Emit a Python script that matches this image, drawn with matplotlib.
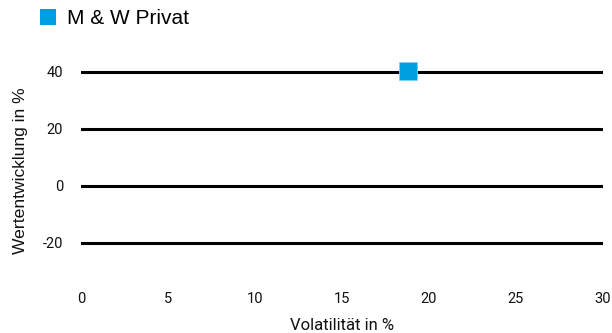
import matplotlib.pyplot as plt

plt.rcParams['axes.unicode_minus'] = False

# data
fund_names = ['M & W Privat']
volatility = [18.8]       # x, in %
performance = [40.3]      # y, in %
y_ticks = [-20, 0, 20, 40]
x_ticks = [0, 5, 10, 15, 20, 25, 30]

blue = '#009fdf'

fig = plt.figure(figsize=(6.12, 3.33), dpi=100)
ax = fig.add_axes([81 / 612, 0.1847, (603 - 81) / 612, 0.8694 - 0.1847])

ax.set_xlim(0, 30)
ax.set_ylim(-30, 50)
for y in y_ticks:
    ax.axhline(y, color='black', lw=2.2, zorder=1)

ax.plot(volatility, performance, 's', color=blue, ms=13, mec='#7fd0ef', mew=0.6,
        label=fund_names[0], zorder=3, clip_on=False)

for s in ax.spines.values():
    s.set_visible(False)
ax.set_xticks(x_ticks)
ax.set_yticks(y_ticks)
ax.tick_params(length=0, labelsize=10.5, labelcolor='#111111')
ax.tick_params(axis='x', pad=14.5)
ax.tick_params(axis='y', pad=13)
for lab in ax.get_xticklabels() + ax.get_yticklabels():
    lab.set_fontfamily('Roboto')

ax.set_xlabel('Volatilität in %', family='Roboto', fontsize=12, color='#111111', labelpad=9)
ax.set_ylabel('Wertentwicklung in %', family='Liberation Sans', fontsize=12.6, color='#111111')
ax.yaxis.set_label_coords(-0.101, 0.44)

fig.legend(handles=ax.get_lines()[-1:], loc='center left', bbox_to_anchor=(27 / 612, 1 - 18.5 / 333),
           frameon=False, borderpad=0, handlelength=1.0, handletextpad=0.4, markerscale=1.0,
           prop={'family': 'Liberation Sans', 'size': 15})
leg = fig.legends[0]
leg.legend_handles[0].set_markersize(11)
leg.legend_handles[0].set_markeredgewidth(0)

fig.savefig('out.png', dpi=100)
